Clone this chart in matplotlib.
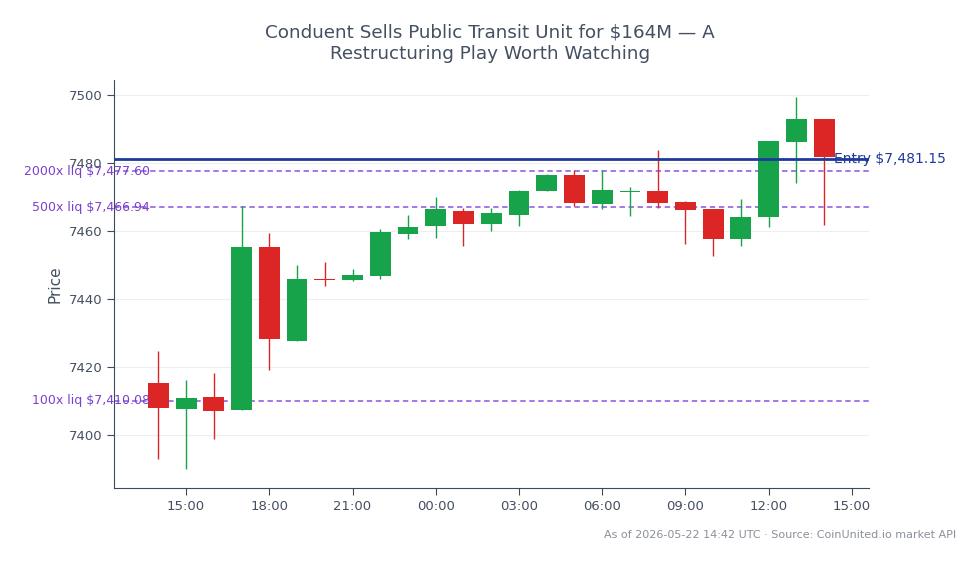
import matplotlib
matplotlib.use("Agg")
import matplotlib.pyplot as plt
import matplotlib.dates as mdates
import numpy as np
import pandas as pd

# hourly candles
times = pd.date_range("2026-05-21 14:00", periods=25, freq="h")
opens = [7415.2, 7407.6, 7411.1, 7407.2, 7455.4, 7427.7, 7445.8, 7445.6, 7446.9, 7459.2,
         7461.6, 7465.9, 7462.2, 7464.8, 7471.9, 7476.5, 7468.0, 7471.6, 7471.8, 7468.5,
         7466.5, 7457.7, 7464.2, 7486.1, 7492.9]
closes = [7407.8, 7410.8, 7406.9, 7455.4, 7428.1, 7445.9, 7445.5, 7447.1, 7459.7, 7461.2,
          7466.5, 7462.2, 7465.3, 7471.8, 7476.5, 7468.3, 7472.1, 7471.9, 7468.3, 7466.3,
          7457.7, 7464.1, 7486.5, 7492.9, 7481.7]
highs = [7424.7, 7416.2, 7418.3, 7467.4, 7459.5, 7450.0, 7451.0, 7448.8, 7460.6, 7464.8,
         7470.1, 7466.9, 7466.9, 7472.1, 7476.8, 7477.9, 7477.9, 7472.9, 7483.8, 7468.8,
         7466.5, 7469.5, 7486.5, 7499.5, 7492.9]
lows = [7392.8, 7389.9, 7398.9, 7407.2, 7419.1, 7427.7, 7443.9, 7445.4, 7445.9, 7457.6,
        7458.0, 7455.7, 7460.1, 7461.6, 7471.9, 7467.4, 7466.4, 7464.5, 7466.9, 7456.3,
        7452.7, 7455.7, 7461.3, 7474.2, 7461.8]

entry_price = 7481.15
liq_labels = ["2000x liq $7,477.60", "500x liq $7,466.94", "100x liq $7,410.08"]
liq_prices = [7477.60, 7466.94, 7410.08]

green = "#16a34a"
red = "#dc2626"
text_col = "#444f60"

fig = plt.figure(figsize=(9.8, 5.64), dpi=100)
ax = fig.add_axes([0.1163, 0.1348, 0.7704, 0.7232])

x = mdates.date2num(times)
w = 0.75 / 24
for xi, o, c, h, l in zip(x, opens, closes, highs, lows):
    col = green if c >= o else red
    ax.vlines(xi, l, h, color=col, linewidth=1, zorder=3)
    bot = min(o, c)
    hgt = max(abs(c - o), 0.3)
    ax.bar(xi, hgt, bottom=bot, width=w, color=col, zorder=4, linewidth=0)

for lab, p in zip(liq_labels, liq_prices):
    ax.axhline(p, color="#9a6ee8", linestyle=(0, (3, 2)), linewidth=1.3, zorder=2)
    ax.text(0.048, p, lab, transform=ax.get_yaxis_transform(), ha="right", va="center",
            color="#7b3fd0", fontsize=9, zorder=6, clip_on=False)

ax.axhline(entry_price, color="#1e3a9a", linewidth=2, zorder=5)
ax.text(0.954, entry_price, "Entry $7,481.15", transform=ax.get_yaxis_transform(),
        ha="left", va="center", color="#1e3a9a", fontsize=10, zorder=6, clip_on=False)

ax.set_xlim(mdates.date2num(pd.Timestamp("2026-05-21 12:24")),
            mdates.date2num(pd.Timestamp("2026-05-22 15:37")))
ax.set_ylim(7384.4, 7504.4)
ax.set_yticks([7400, 7420, 7440, 7460, 7480, 7500])
ax.xaxis.set_major_locator(mdates.HourLocator(byhour=range(0, 24, 3)))
ax.xaxis.set_major_formatter(mdates.DateFormatter("%H:%M"))

ax.grid(axis="y", color="#eeeeee", linewidth=0.8, zorder=0)
ax.set_axisbelow(True)
for s in ["top", "right"]:
    ax.spines[s].set_visible(False)
for s in ["left", "bottom"]:
    ax.spines[s].set_color("#3d4a5c")
ax.tick_params(colors="#3d4a5c", labelcolor=text_col, labelsize=9.5, length=5)
ax.set_ylabel("Price", color=text_col, fontsize=11)

fig.suptitle("Conduent Sells Public Transit Unit for $164M — A\nRestructuring Play Worth Watching",
             color=text_col, fontsize=13.2, y=0.958, linespacing=1.25)
fig.text(0.976, 0.051, "As of 2026-05-22 14:42 UTC · Source: CoinUnited.io market API",
         ha="right", va="center", color="#8a909a", fontsize=8)

fig.savefig("out.png", dpi=100)
